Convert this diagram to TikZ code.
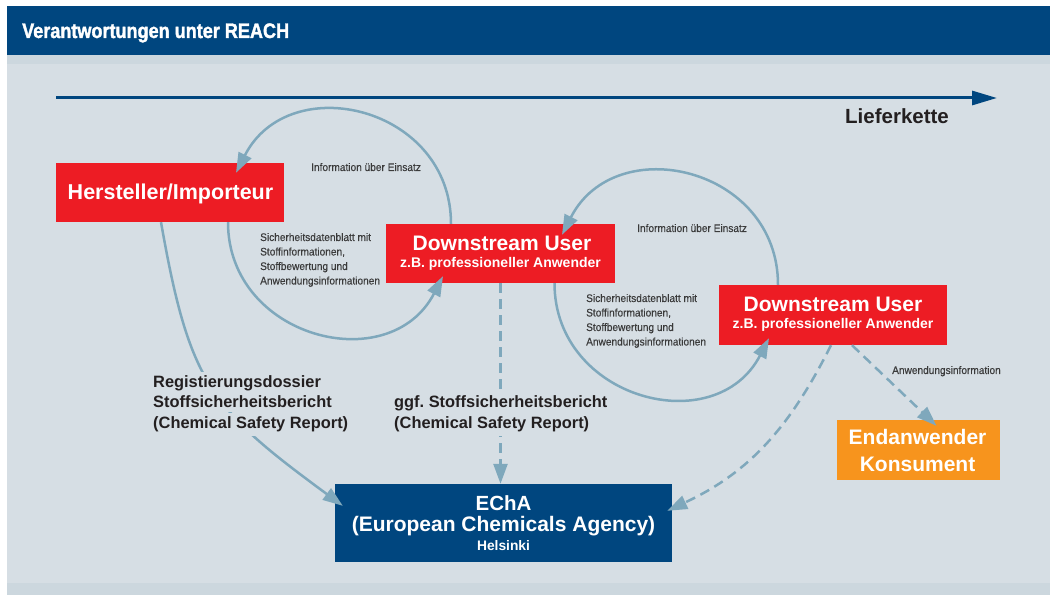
\documentclass[tikz,border=0pt]{standalone}
\usepackage{fontspec}
\setmainfont{Liberation Sans}
\newfontfamily\condfont[FakeStretch=0.86,FakeBold=1.6]{Liberation Sans Bold}
\newfontfamily\smallcond[FakeStretch=0.92,FakeBold=0.3]{Liberation Sans}
\usetikzlibrary{arrows.meta}
\definecolor{hdr}{HTML}{00467F}
\definecolor{bgc}{HTML}{D6DEE4}
\definecolor{stripc}{HTML}{CCD7DE}
\definecolor{myred}{HTML}{ED1C24}
\definecolor{myorange}{HTML}{F7941D}
\definecolor{flowc}{HTML}{7FA8BC}
\definecolor{darktxt}{HTML}{231F20}
\definecolor{graytxt}{HTML}{3A3A3A}
\tikzset{
  boxbase/.style={rectangle, inner sep=0pt, draw=none},
  redbox/.style={boxbase, fill=myred},
  orangebox/.style={boxbase, fill=myorange},
  bluebox/.style={boxbase, fill=hdr},
  wtxt/.style={inner sep=0pt, anchor=base, text=white},
  bigw/.style={wtxt, font=\fontsize{21}{21}\selectfont\bfseries},
  subw/.style={wtxt, font=\fontsize{14}{14}\selectfont\bfseries},
  boldlbl/.style={inner sep=0pt, inner ysep=4pt, anchor=base west, text=darktxt, fill=bgc, font=\fontsize{16.4}{16.4}\selectfont\bfseries},
  smalllbl/.style={inner sep=0pt, anchor=base west, text=graytxt, font=\smallcond\fontsize{11}{11}\selectfont},
  flow/.style={draw=flowc, line width=2.5pt, -{Triangle[length=20pt,width=14pt]}},
  dflow/.style={flow, dash pattern=on 10pt off 6pt}
}
\frenchspacing
\begin{document}
\begin{tikzpicture}[x=1pt,y=1pt]
\useasboundingbox (0,0) rectangle (1050,595);
% background
\fill[white] (0,0) rectangle (1050,595);
\fill[hdr] (7,589) rectangle (1050,540);
\fill[stripc] (7,540) rectangle (1050,531);
\fill[bgc] (7,531) rectangle (1050,12);
\fill[stripc] (7,12) rectangle (1050,0);
\node[inner sep=0pt, anchor=base west, text=white, font=\condfont\fontsize{21}{21}\selectfont] (title) at (22,557) {Verantwortungen unter REACH};

% supply chain arrow
\coordinate (lk0) at (56,497);
\coordinate (lk1) at (997,497);
\draw[hdr, line width=3pt, -{Triangle[length=25pt,width=14pt]}] (lk0) -- (lk1);
\node[inner sep=0pt, anchor=base west, text=darktxt, font=\fontsize{20.5}{20.5}\selectfont\bfseries] (lk) at (845,471) {Lieferkette};

% boxes
\node[redbox, minimum width=228pt, minimum height=59pt] (hi) at (170,402.5) {};
\node[redbox, minimum width=229pt, minimum height=59pt] (du1) at (500.5,341.5) {};
\node[redbox, minimum width=228pt, minimum height=60pt] (du2) at (833,280) {};
\node[orangebox, minimum width=163pt, minimum height=60pt] (endn) at (918.5,145) {};
\node[bluebox, minimum width=337pt, minimum height=78pt] (echa) at (503.5,72) {};

% connectors
\draw[flow] ([xshift=-49.5pt]du1.north) to[out=90,in=63,looseness=1.36] ([xshift=66pt,yshift=-10pt]hi.north);
\draw[flow] ([xshift=58pt]hi.south) to[out=-90,in=242.6,looseness=1.34] ([xshift=-57.5pt,yshift=7pt]du1.south);
\draw[flow] ([xshift=-55pt]du2.north) to[out=90,in=63,looseness=1.36] ([xshift=61.5pt,yshift=-11pt]du1.north);
\draw[flow] ([xshift=54pt]du1.south) to[out=-90,in=242.6,looseness=1.34] ([xshift=-64pt,yshift=7pt]du2.south);
\draw[flow] ([xshift=-9pt]hi.south) to[out=-80,in=143.7,looseness=1.25] ([xshift=8pt,yshift=-22pt]echa.north west);
\draw[dflow] (du1.south) -- (du1.south |- echa.north);
\draw[dflow] ([xshift=-2pt]du2.south) to[out=243.4,in=25] ([xshift=-5pt,yshift=-27pt]echa.north east);
\draw[dflow] ([xshift=19pt]du2.south) -- ([xshift=18pt,yshift=-6pt]endn.north);

% box texts
\node[wtxt, font=\fontsize{21.5}{21.5}\selectfont\bfseries] (hiT) at (170.5,395) {Hersteller/Importeur};
\node[bigw] (du1T) at (502,344) {Downstream User};
\node[subw] (du1S) at (500.5,327) {z.B. professioneller Anwender};
\node[bigw] (du2T) at (833,283) {Downstream User};
\node[subw] (du2S) at (833,266) {z.B. professioneller Anwender};
\node[bigw] (endT) at (917.5,150) {Endanwender};
\node[bigw] (endS) at (917.5,124) {Konsument};
\node[bigw, font=\fontsize{20.5}{20.5}\selectfont\bfseries] (echaT) at (503.5,85) {EChA};
\node[bigw] (echaS) at (503.5,64) {(European Chemicals Agency)};
\node[subw, font=\fontsize{13.8}{13.8}\selectfont\bfseries] (echaH) at (503.5,44.5) {Helsinki};

% bold labels (masking the connectors behind them)
\node[boldlbl] (reg1) at (153,207.5) {Registierungsdossier};
\node[boldlbl] (reg2) at (153,187) {Stoffsicherheitsbericht};
\node[boldlbl] (reg3) at (153,166.5) {(Chemical Safety Report)};
\node[boldlbl] (ggf1) at (394,187) {ggf. Stoffsicherheitsbericht};
\node[boldlbl] (ggf2) at (394,166.5) {(Chemical Safety Report)};

% small labels
\node[smalllbl] (inf1) at (311,424) {Information über Einsatz};
\node[smalllbl] (sdb1a) at (260,354) {Sicherheitsdatenblatt mit};
\node[smalllbl] (sdb1b) at (260,339.5) {Stoffinformationen,};
\node[smalllbl] (sdb1c) at (260,325) {Stoffbewertung und};
\node[smalllbl] (sdb1d) at (260,310.5) {Anwendungsinformationen};
\node[smalllbl] (inf2) at (637,363) {Information über Einsatz};
\node[smalllbl] (sdb2a) at (586,293) {Sicherheitsdatenblatt mit};
\node[smalllbl] (sdb2b) at (586,278.5) {Stoffinformationen,};
\node[smalllbl] (sdb2c) at (586,264) {Stoffbewertung und};
\node[smalllbl] (sdb2d) at (586,249.5) {Anwendungsinformationen};
\node[smalllbl] (anw) at (892,221) {Anwendungsinformation};
\end{tikzpicture}
\end{document}
